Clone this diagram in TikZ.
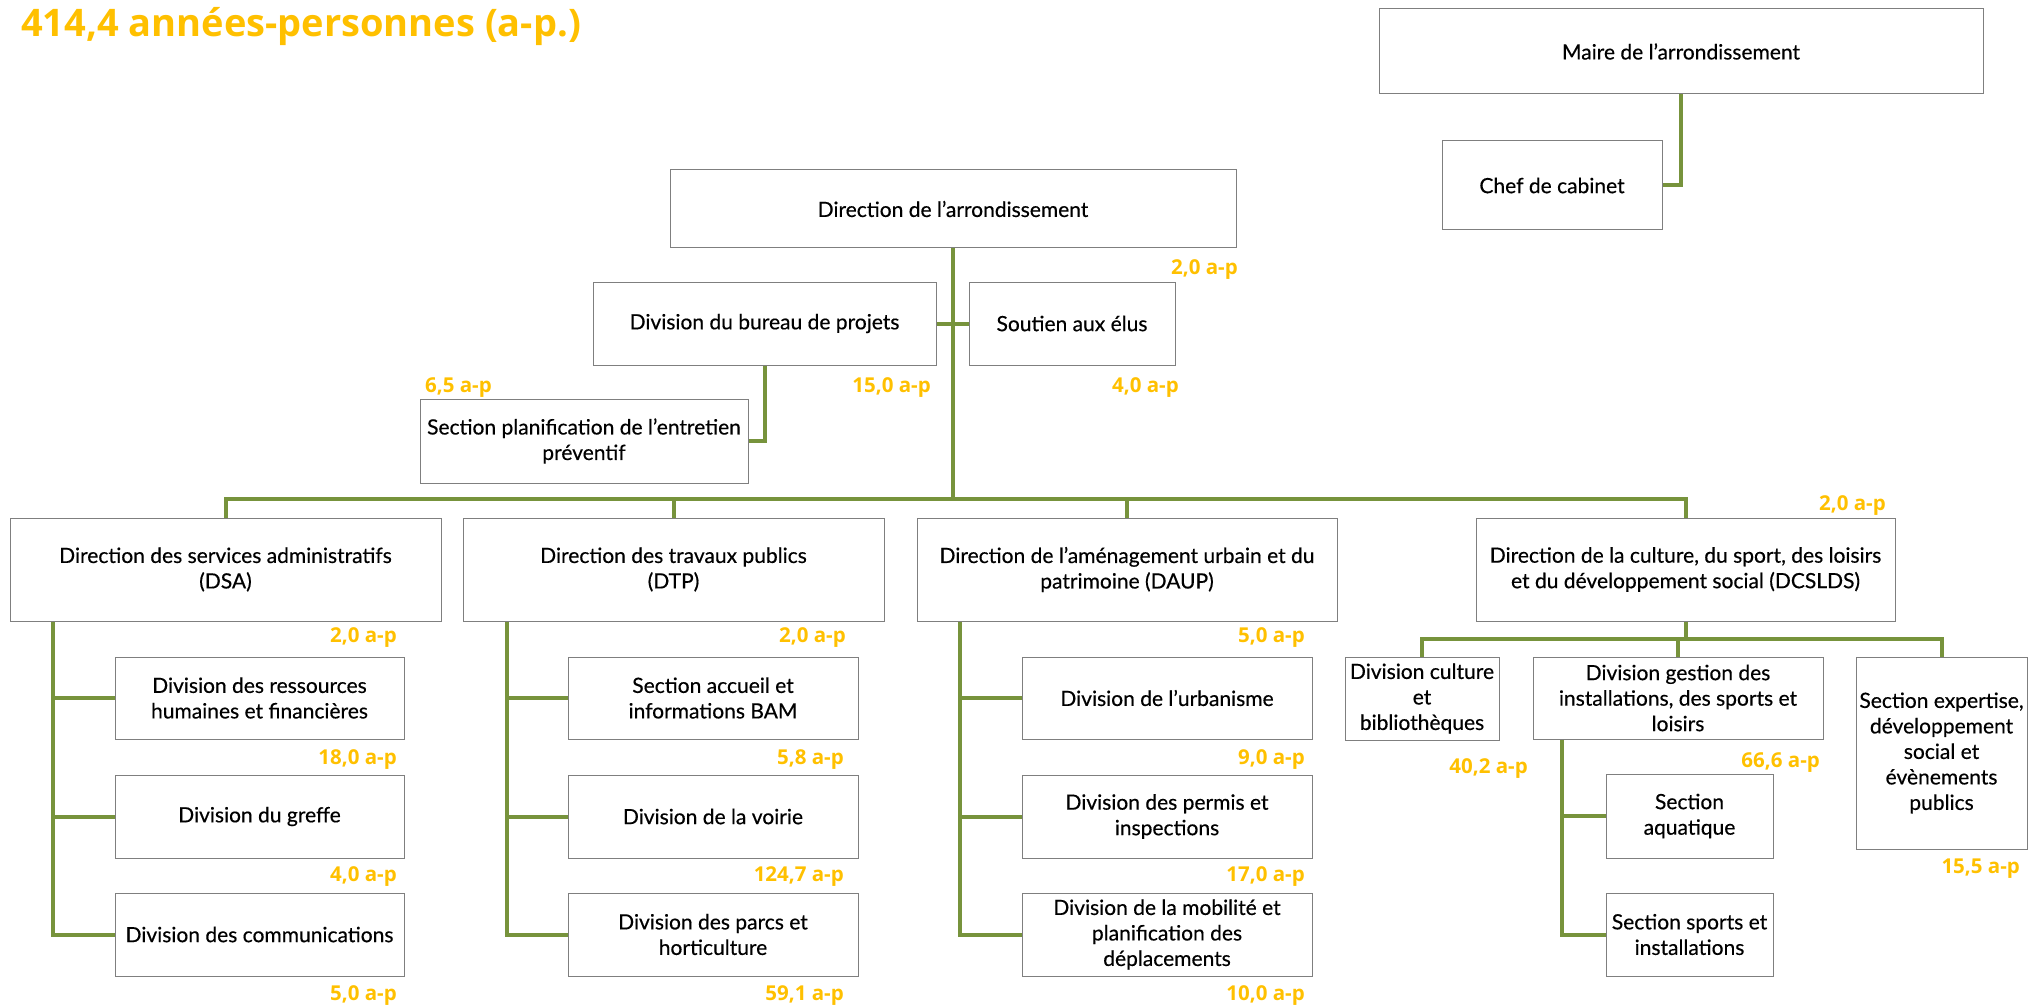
\documentclass[tikz,border=0pt]{standalone}
\usepackage{fontspec}
\setmainfont{Lato}
\newfontfamily\boxfont{Lato}[FakeBold=0.4, Ligatures=TeX]
\newfontfamily\apfont{Open Sans}[Ligatures=TeX]
\definecolor{apyellow}{HTML}{FFC000}
\definecolor{lineGreen}{HTML}{77933C}
\definecolor{boxgray}{HTML}{7F7F7F}
\definecolor{shadowgray}{HTML}{8C8C8C}
\newcommand{\bx}[6]{\node[orgbox, minimum width={#4pt-#2pt}, minimum height={#5pt-#3pt}] (#1) at ({(#2+#4)/2},{(#3+#5)/2}) {#6};}
\begin{document}
\begin{tikzpicture}[x=1pt,y=-1pt,
  orgbox/.style={draw=boxgray, line width=1pt, fill=white, align=center, inner sep=0pt,
    font=\boxfont\fontsize{21}{25.5}\selectfont,
    append after command={[draw=shadowgray, line width=2pt] ([yshift=-1.5pt]\tikzlastnode.south west) -- ([yshift=-1.5pt]\tikzlastnode.south east)}},
  conn/.style={draw=lineGreen, line width=4pt},
  lbl/.style={text=apyellow, font=\apfont\bfseries\fontsize{20.5}{22}\selectfont, inner sep=0pt, anchor=east},
]
\useasboundingbox (0,0) rectangle (2036,1008);

\node[anchor=base west, inner sep=0pt, text=apyellow, font=\apfont\bfseries\fontsize{38}{40}\selectfont] (title) at (21,37) {414,4 années-personnes (a-p.)};

% top right
\bx{maire}{1379}{9}{1983}{94}{Maire de l’arrondissement}
\bx{chef}{1442}{141}{1662}{230}{Chef de cabinet}

% direction
\bx{dir}{670}{170}{1236}{248}{Direction de l’arrondissement}
\bx{bureau}{593}{282}{936}{365}{Division du bureau de projets}
\bx{soutien}{969}{282}{1175}{365}{Soutien aux élus}
\bx{planif}{420}{399}{748}{483}{Section planification de l’entretien\\préventif}

% directions
\bx{dsa}{10}{518}{441}{621}{Direction des services administratifs\\(DSA)}
\bx{dtp}{463}{518}{884}{621}{Direction des travaux publics\\(DTP)}
\bx{daup}{917}{518}{1337}{621}{Direction de l’aménagement urbain et du\\patrimoine (DAUP)}
\bx{dcslds}{1476}{518}{1895}{621}{Direction de la culture, du sport, des loisirs\\et du développement social (DCSLDS)}

% DSA children
\bx{dsaA}{115}{657}{404}{739}{Division des ressources\\humaines et financières}
\bx{dsaB}{115}{775}{404}{858}{Division du greffe}
\bx{dsaC}{115}{893}{404}{976}{Division des communications}

% DTP children
\bx{dtpA}{568}{657}{858}{739}{Section accueil et\\informations BAM}
\bx{dtpB}{568}{775}{858}{858}{Division de la voirie}
\bx{dtpC}{568}{893}{858}{976}{Division des parcs et\\horticulture}

% DAUP children
\bx{daupA}{1022}{657}{1312}{739}{Division de l’urbanisme}
\bx{daupB}{1022}{775}{1312}{858}{Division des permis et\\inspections}
\bx{daupC}{1022}{893}{1312}{976}{Division de la mobilité et\\planification des\\déplacements}

% DCSLDS children
\bx{culture}{1345}{657}{1499}{740}{Division culture\\et\\bibliothèques}
\bx{gestion}{1533}{657}{1823}{739}{Division gestion des\\installations, des sports et\\loisirs}
\bx{expertise}{1856}{657}{2027}{849}{Section expertise,\\développement\\social et\\évènements\\publics}
\bx{aqua}{1606}{774}{1773}{858}{Section\\aquatique}
\bx{sports}{1606}{893}{1773}{976}{Section sports et\\installations}

% coordinates
\coordinate (busy) at (0,499);
\coordinate (suby) at (0,639);

% connectors
\draw[conn] (maire.south) |- (chef.east);
\draw[conn] (dir.south) -- (dir.south |- busy);
\draw[conn] (bureau.east) -- (soutien.west);
\draw[conn] (bureau.south) |- (planif.east);
\draw[conn] (dsa.north) |- (dcslds.north |- busy) -- (dcslds.north);
\draw[conn] (dtp.north) -- (dtp.north |- busy);
\draw[conn] (daup.north) -- (daup.north |- busy);

\draw[conn] ([xshift=43pt]dsa.south west) |- (dsaC.west);
\draw[conn] ([xshift=43pt]dsa.south west |- dsaA.west) -- (dsaA.west);
\draw[conn] ([xshift=43pt]dsa.south west |- dsaB.west) -- (dsaB.west);

\draw[conn] ([xshift=44pt]dtp.south west) |- (dtpC.west);
\draw[conn] ([xshift=44pt]dtp.south west |- dtpA.west) -- (dtpA.west);
\draw[conn] ([xshift=44pt]dtp.south west |- dtpB.west) -- (dtpB.west);

\draw[conn] ([xshift=43pt]daup.south west) |- (daupC.west);
\draw[conn] ([xshift=43pt]daup.south west |- daupA.west) -- (daupA.west);
\draw[conn] ([xshift=43pt]daup.south west |- daupB.west) -- (daupB.west);

\draw[conn] (dcslds.south) -- (dcslds.south |- suby);
\draw[conn] (culture.north) |- (expertise.north |- suby) -- (expertise.north);
\draw[conn] (gestion.north) -- (gestion.north |- suby);
\draw[conn] ([xshift=29pt]gestion.south west) |- (sports.west);
\draw[conn] ([xshift=29pt]gestion.south west |- aqua.west) -- (aqua.west);

% labels
\node[lbl] (lDir) at (1238,270) {2,0 a-p};
\node[lbl] (lBur) at (931,388) {15,0 a-p};
\node[lbl] (lSou) at (1179,388) {4,0 a-p};
\node[lbl] (lPla) at (492,388) {6,5 a-p};

\node[lbl] (lDsa) at (397,638) {2,0 a-p};
\node[lbl] (lDsaA) at (397,760) {18,0 a-p};
\node[lbl] (lDsaB) at (397,877) {4,0 a-p};
\node[lbl] (lDsaC) at (397,996) {5,0 a-p};

\node[lbl] (lDtp) at (846,638) {2,0 a-p};
\node[lbl] (lDtpA) at (844,760) {5,8 a-p};
\node[lbl] (lDtpB) at (844,877) {124,7 a-p};
\node[lbl] (lDtpC) at (844,996) {59,1 a-p};

\node[lbl] (lDaup) at (1305,638) {5,0 a-p};
\node[lbl] (lDaupA) at (1305,760) {9,0 a-p};
\node[lbl] (lDaupB) at (1305,877) {17,0 a-p};
\node[lbl] (lDaupC) at (1305,996) {10,0 a-p};

\node[lbl] (lDcs) at (1886,506) {2,0 a-p};
\node[lbl] (lCul) at (1528,769) {40,2 a-p};
\node[lbl] (lGes) at (1820,763) {66,6 a-p};
\node[lbl] (lExp) at (2020,869) {15,5 a-p};
\end{tikzpicture}
\end{document}
